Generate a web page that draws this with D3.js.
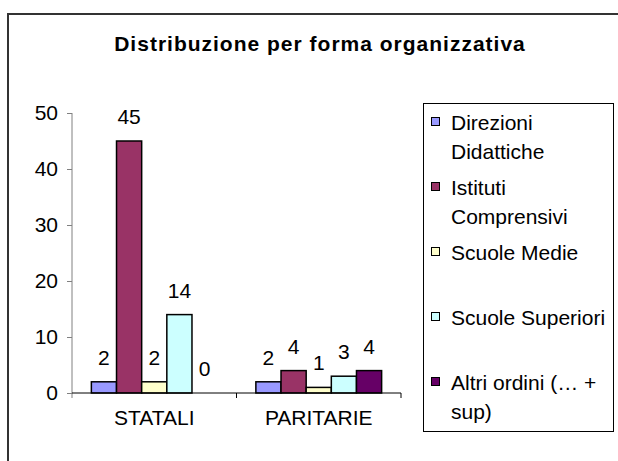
<!DOCTYPE html>
<html>
<head>
  <meta charset="UTF-8">
  <title>Distribuzione per forma organizzativa</title>
  <style>
    body { margin: 0; background: #fff; }
    text { font-family: "Liberation Sans", Arial, sans-serif; fill: #000; }
    .bar { stroke: #000; stroke-width: 1.5; }
  </style>
</head>
<body>
  <svg id="chart"></svg>
  <script src="https://d3js.org/d3.v7.min.js"></script>
  <script>
    // dati
    var categories = ["STATALI", "PARITARIE"];
    var series = ["Direzioni Didattiche", "Istituti Comprensivi", "Scuole Medie", "Scuole Superiori", "Altri ordini (… + sup)"];
    var statali = [2, 45, 2, 14, 0];
    var paritarie = [2, 4, 1, 3, 4];
    var colors = ["#9999ff", "#993366", "#ffffcc", "#ccffff", "#660066"];
    var yTicks = [0, 10, 20, 30, 40, 50];

    var values = [statali, paritarie];
    var data = [];
    categories.forEach(function(c, i) {
      series.forEach(function(s, j) {
        data.push({cat: c, serie: s, value: values[i][j], color: colors[j]});
      });
    });

    var W = 618, H = 461;
    var svg = d3.select("#chart").attr("width", W).attr("height", H);

    // cornice esterna (solo lato sinistro e superiore visibili)
    svg.append("path")
      .attr("d", "M8," + (H + 5) + "V14H" + (W + 5))
      .attr("fill", "none")
      .attr("stroke", "#333")
      .attr("stroke-width", 2);

    // titolo
    svg.append("text")
      .attr("x", 320)
      .attr("y", 51)
      .attr("text-anchor", "middle")
      .style("font-size", "21px")
      .style("font-weight", "bold")
      .style("letter-spacing", "1px")
      .text("Distribuzione per forma organizzativa");

    // area del grafico
    var plot = {left: 72, right: 401, top: 113, bottom: 393};

    var x0 = d3.scaleBand()
      .domain(categories)
      .range([plot.left, plot.right])
      .paddingInner(0).paddingOuter(0);

    var x1 = d3.scaleBand()
      .domain(series)
      .range([0, x0.bandwidth()])
      .paddingInner(0).paddingOuter(0.77);

    var y = d3.scaleLinear()
      .domain([0, 50])
      .range([plot.bottom, plot.top]);

    // asse Y
    var yAxis = svg.append("g")
      .attr("transform", "translate(" + plot.left + ",0)")
      .call(d3.axisLeft(y).tickValues(yTicks).tickSize(5).tickPadding(9).tickSizeOuter(0));
    yAxis.select(".domain").attr("stroke", "#808080").attr("d", "M0," + (plot.top) + "V" + (plot.bottom + 5));
    yAxis.selectAll(".tick line").attr("stroke", "#808080");
    yAxis.selectAll(".tick text").style("font-size", "21px").attr("fill", "#000");

    // barre
    svg.selectAll(".bar")
      .data(data)
      .enter().append("rect")
      .attr("class", "bar")
      .attr("x", function(d) { return x0(d.cat) + x1(d.serie); })
      .attr("width", x1.bandwidth())
      .attr("y", function(d) { return y(d.value); })
      .attr("height", function(d) { return y(0) - y(d.value); })
      .attr("fill", function(d) { return d.color; });

    // etichette valori
    svg.selectAll(".lbl")
      .data(data)
      .enter().append("text")
      .attr("class", "lbl")
      .attr("x", function(d) { return x0(d.cat) + x1(d.serie) + x1.bandwidth() / 2; })
      .attr("y", function(d) { return y(d.value) - 17; })
      .attr("text-anchor", "middle")
      .style("font-size", "21px")
      .text(function(d) { return d.value; });

    // asse X
    var xAxis = svg.append("g")
      .attr("transform", "translate(0," + plot.bottom + ")")
      .call(d3.axisBottom(x0).tickSize(0).tickPadding(17));
    xAxis.select(".domain").attr("stroke", "#000").attr("d", "M" + plot.left + ",0H" + plot.right);
    xAxis.selectAll(".tick text").style("font-size", "21px").attr("fill", "#000");
    // tacche ai confini delle categorie
    xAxis.selectAll(".sep")
      .data(categories)
      .enter().append("line")
      .attr("x1", function(d) { return x0(d) + x0.bandwidth(); })
      .attr("x2", function(d) { return x0(d) + x0.bandwidth(); })
      .attr("y1", 0).attr("y2", 5)
      .attr("stroke", "#000");

    // legenda
    var legend = svg.append("g");
    legend.append("rect")
      .attr("x", 423.5).attr("y", 103.5)
      .attr("width", 190).attr("height", 328)
      .attr("fill", "#fff")
      .attr("stroke", "#000");

    var ly = d3.scalePoint().domain(series).range([130, 390]);
    var tx = 451, maxW = 160;

    series.forEach(function(s, i) {
      var g = legend.append("g");
      g.append("rect")
        .attr("x", 431.5).attr("y", ly(s) - 12.5)
        .attr("width", 8).attr("height", 8)
        .attr("fill", colors[i])
        .attr("stroke", "#000");
      var t = g.append("text")
        .attr("x", tx).attr("y", ly(s))
        .style("font-size", "21px");
      // a capo automatico
      var words = s.split(" "), line = [], lineNo = 0;
      var tspan = t.append("tspan").attr("x", tx).attr("y", ly(s));
      words.forEach(function(w) {
        line.push(w);
        tspan.text(line.join(" "));
        if (tspan.node().getComputedTextLength() > maxW && line.length > 1) {
          line.pop();
          tspan.text(line.join(" "));
          line = [w];
          lineNo++;
          tspan = t.append("tspan").attr("x", tx).attr("y", ly(s) + lineNo * 29).text(w);
        }
      });
    });
  </script>
</body>
</html>
